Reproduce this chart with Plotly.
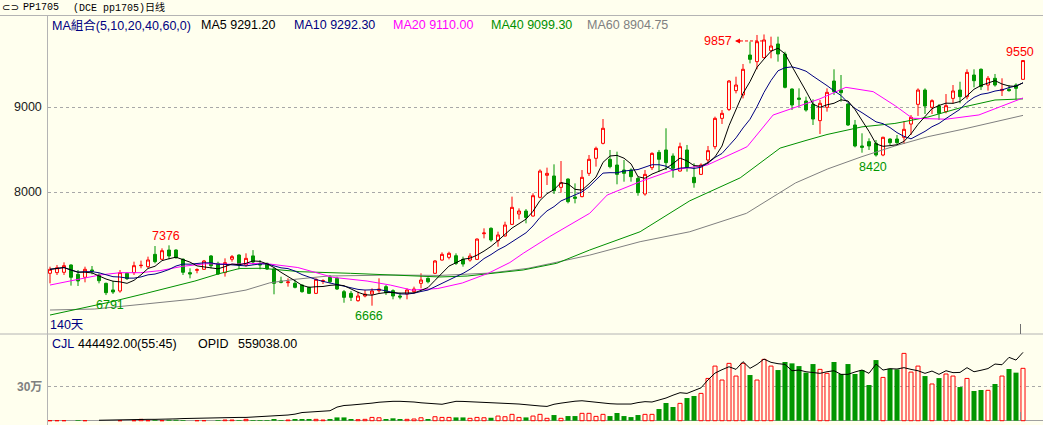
import plotly.graph_objects as go
import pandas as pd

W, H = 1043, 425
BG = "#FFFFEE"
RED = "#FF0000"
GREEN = "#009600"
NAVY = "#000080"
MAGENTA = "#FF00FF"
MA40_C = "#009000"
GREY = "#808080"
FRAME = "#B4B4B4"
FONT = "Liberation Sans, Arial, Noto Sans CJK SC, sans-serif"
MONO = "Liberation Mono, DejaVu Sans Mono, Noto Sans CJK SC, monospace"

# ---------------- data ----------------
opens = [7047, 7055, 7059, 7145, 7035, 7000, 7086, 7027, 6929, 6851,
         6839, 7047, 7055, 7137, 7125, 7270, 7212, 7321, 7321, 7212,
         7055, 7082, 7094, 7251, 7164, 7055, 7212, 7262, 7145, 7252,
         7160, 7164, 7098, 6956, 6937, 6929, 6909, 6882, 6811, 6952,
         7000, 6988, 6831, 6811, 6725, 6780, 6803, 6843, 6890, 6843,
         6780, 6803, 6831, 6929, 6988, 7047, 7203, 7235, 7254, 7211,
         7203, 7211, 7513, 7576, 7431, 7486, 7623, 7745, 7780, 7721,
         7941, 8200, 8192, 8058, 8156, 7945, 7949, 8223, 8400, 8576,
         8388, 8321, 8262, 8262, 8164, 7980, 8290, 8470, 8498, 8427,
         8250, 8498, 8176, 8211, 8380, 8537, 8870, 8975, 9196, 9145,
         9615, 9537, 9584, 9666, 9745, 9627, 9215, 9109, 9074, 9035,
         8843, 9000, 9309, 9203, 9039, 8792, 8545, 8596, 8576, 8439,
         8627, 8627, 8647, 8803, 9035, 9203, 9000, 9015, 8949, 9105,
         9203, 9125, 9380, 9447, 9262, 9341, 9196, 9211, 9262, 9329]
highs = [7125, 7145, 7176, 7153, 7086, 7125, 7133, 7047, 6937, 6957,
         7086, 7055, 7184, 7196, 7243, 7368, 7341, 7376, 7329, 7223,
         7106, 7106, 7204, 7262, 7184, 7223, 7262, 7270, 7282, 7320,
         7203, 7172, 7113, 7007, 6988, 6968, 6917, 6890, 6988, 6976,
         7027, 7007, 6851, 6839, 6831, 6851, 6870, 6988, 6909, 6858,
         6819, 6870, 6890, 7047, 7000, 7203, 7294, 7301, 7282, 7243,
         7282, 7458, 7576, 7588, 7537, 7654, 7949, 7811, 7803, 7988,
         8270, 8290, 8329, 8368, 8164, 8105, 8262, 8439, 8537, 8862,
         8498, 8478, 8380, 8282, 8184, 8262, 8470, 8498, 8753, 8458,
         8584, 8557, 8341, 8341, 8545, 8890, 8968, 9321, 9360, 9509,
         9772, 9851, 9857, 9831, 9831, 9654, 9223, 9223, 9125, 9094,
         9086, 9223, 9447, 9380, 9047, 8851, 8694, 8635, 8615, 8654,
         8635, 8674, 8839, 8909, 9223, 9223, 9094, 9039, 9156, 9262,
         9301, 9447, 9447, 9458, 9368, 9392, 9341, 9262, 9282, 9550]
lows = [6929, 7027, 7027, 6902, 6898, 6941, 7035, 6929, 6791, 6804,
        6819, 6968, 7027, 7106, 7106, 7164, 7204, 7212, 7219, 7027,
        6988, 7047, 7086, 7106, 7027, 7008, 7184, 7094, 7125, 7150,
        7094, 7086, 6800, 6929, 6890, 6870, 6819, 6803, 6803, 6921,
        6929, 6851, 6701, 6721, 6713, 6764, 6666, 6819, 6792, 6741,
        6741, 6741, 6811, 6870, 6929, 7039, 7196, 7211, 7145, 7125,
        7184, 7203, 7458, 7419, 7360, 7478, 7615, 7682, 7635, 7713,
        7929, 8086, 7980, 7996, 7870, 7870, 7941, 8192, 8302, 8564,
        8282, 8094, 8125, 8125, 7960, 7960, 8262, 8243, 8262, 8172,
        8243, 8243, 8054, 8203, 8329, 8506, 8804, 8956, 9164, 9105,
        9517, 9447, 9576, 9576, 9537, 9223, 8968, 9007, 8949, 8792,
        8686, 8949, 9145, 9066, 8780, 8529, 8466, 8498, 8420, 8425,
        8556, 8568, 8568, 8674, 8898, 8921, 8921, 8851, 8929, 9047,
        9047, 9094, 9235, 9203, 9196, 9243, 9133, 9184, 9094, 9329]
closes = [7094, 7113, 7137, 7000, 6957, 7094, 7070, 6960, 6819, 6827,
          7055, 6984, 7137, 7141, 7204, 7184, 7313, 7251, 7231, 7059,
          7039, 7090, 7192, 7137, 7039, 7172, 7243, 7145, 7223, 7180,
          7145, 7098, 6929, 6941, 6945, 6882, 6831, 6811, 6976, 6960,
          6948, 6862, 6764, 6764, 6780, 6803, 6839, 6862, 6819, 6780,
          6768, 6851, 6862, 6968, 6948, 7192, 7270, 7282, 7164, 7156,
          7250, 7450, 7521, 7439, 7498, 7615, 7823, 7780, 7705, 7960,
          8250, 8223, 8019, 8113, 7890, 7929, 8176, 8388, 8517, 8753,
          8302, 8211, 8223, 8184, 7996, 8211, 8458, 8388, 8349, 8282,
          8537, 8290, 8113, 8321, 8490, 8870, 8929, 9309, 9262, 9447,
          9564, 9772, 9792, 9721, 9627, 9235, 9027, 9094, 8968, 8862,
          9047, 9176, 9184, 9172, 8792, 8545, 8529, 8545, 8439, 8647,
          8584, 8584, 8741, 8882, 9203, 9015, 9078, 8929, 9019, 9192,
          9125, 9411, 9313, 9243, 9341, 9262, 9211, 9196, 9223, 9550]
volumes = [0, 0, 0, 0, 6000, 0, 0, 0, 0, 0,
           0, 0, 0, 12000, 0, 8000, 0, 8000, 8000, 6000,
           0, 0, 0, 0, 6000, 6000, 6000, 6000, 12000, 6000,
           6000, 6000, 15000, 6000, 6000, 15000, 15000, 15000, 12000, 6000,
           15000, 29000, 29000, 15000, 9000, 12000, 29000, 26000, 15000, 21000,
           15000, 12000, 15000, 26000, 15000, 35000, 29000, 29000, 29000, 29000,
           21000, 29000, 26000, 26000, 41000, 35000, 56000, 29000, 29000, 41000,
           56000, 21000, 50000, 21000, 41000, 41000, 65000, 65000, 38000, 56000,
           41000, 68000, 41000, 32000, 50000, 56000, 56000, 103000, 156000, 121000,
           153000, 200000, 218000, 241000, 373000, 482000, 359000, 506000, 394000, 506000,
           403000, 359000, 541000, 482000, 447000, 518000, 506000, 482000, 424000, 500000,
           453000, 418000, 518000, 412000, 500000, 412000, 447000, 315000, 535000, 382000,
           459000, 453000, 594000, 429000, 482000, 394000, 324000, 376000, 412000, 394000,
           297000, 373000, 262000, 271000, 268000, 324000, 394000, 456000, 424000, 462000]
opid = [None, None, None, None, None, None, None, 4000, 6000, 8000,
        10000, 11000, 12000, 12000, 12000, 12000, 12000, 13000, 16000, 19000,
        21000, 23000, 25000, 26000, 27000, 28000, 29000, 29000, 29000, 32000,
        36000, 40000, 44000, 47000, 50000, 58000, 72000, 76000, 80000, 85000,
        88000, 120000, 134000, 138000, 142000, 147000, 155000, 163000, 170000, 171000,
        171000, 171000, 165000, 158000, 154000, 150000, 145000, 158000, 171000, 170000,
        168000, 165000, 163000, 161000, 159000, 155000, 150000, 147000, 140000, 135000,
        130000, 126000, 145000, 155000, 165000, 172000, 176000, 168000, 160000, 153000,
        150000, 147000, 147000, 147000, 160000, 168000, 165000, 180000, 200000, 225000,
        247000, 241000, 262000, 290000, 360000, 420000, 450000, 476000, 453000, 521000,
        462000, 497000, 544000, 515000, 503000, 497000, 441000, 447000, 432000, 426000,
        418000, 432000, 441000, 409000, 409000, 430000, 447000, 418000, 500000, 447000,
        459000, 456000, 468000, 453000, 441000, 418000, 438000, 409000, 441000, 424000,
        426000, 468000, 432000, 445000, 460000, 500000, 494000, 559000, 535000, 603000]

# slower moving averages (candle index -> value)
ma20_idx = [0, 2.4, 4.7, 7.1, 10, 12.9, 15.7, 19, 22.4, 26.1, 30, 31.4, 35.4, 40.4,
            45.3, 48.6, 51.7, 55.4, 58.9, 62.6, 65.7, 67.6, 71.4, 77.1, 79.6, 84.3,
            89, 93.9, 98.6, 99.6, 103.3, 106.5, 110, 113.7, 116, 117.6, 120.8, 123.2,
            128, 132.7, 139]
ma20_val = [6909, 6948, 6988, 7027, 7054, 7054, 7078, 7130, 7160, 7153, 7165, 7156,
            7115, 7000, 6956, 6909, 6850, 6868, 6933, 7047, 7174, 7282, 7480, 7753,
            7968, 8125, 8262, 8321, 8498, 8537, 8909, 9000, 9100, 9235, 9204, 9184,
            9015, 8871, 8860, 8910, 9110]
ma40_idx = [0, 4.3, 7.1, 8.6, 13.6, 17.1, 20.7, 24, 27.1, 30.3, 35.7, 42.9, 50,
            55.7, 59.6, 63.6, 67.6, 72.4, 77.1, 84.3, 91.4, 98.6, 104.3, 108, 111,
            116, 120.7, 125.4, 130.3, 135, 139]
ma40_val = [6556, 6633, 6686, 6709, 6809, 6880, 6956, 7039, 7104, 7106, 7066, 7047,
            7027, 7004, 7015, 7047, 7086, 7165, 7321, 7536, 7900, 8170, 8520, 8610,
            8680, 8770, 8810, 8885, 9000, 9086, 9099]
ma60_idx = [0, 6.4, 13.6, 20.7, 28, 31.4, 35, 39.7, 49.3, 55.7, 62.9, 68.3, 71.4,
            77.1, 84.3, 91.4, 99.5, 106.5, 111.1, 116, 120.7, 125.4, 130.3, 135, 139]
ma60_val = [6615, 6627, 6686, 6745, 6850, 6935, 6976, 7015, 7027, 7022, 7050, 7106,
            7160, 7261, 7419, 7536, 7753, 8110, 8275, 8420, 8545, 8654, 8740, 8831,
            8905]

price_ticks = [8000, 9000]
vol_ticks = [300000]
vol_tick_text = ["30万"]

header_code = "PP1705"
header_name = "(DCE pp1705)日线"
legend_items = [("MA組合(5,10,20,40,60,0)", NAVY), ("MA5 9291.20", "#000000"),
                ("MA10 9292.30", NAVY), ("MA20 9110.00", MAGENTA),
                ("MA40 9099.30", MA40_C), ("MA60 8904.75", GREY)]
vol_items = [("CJL", NAVY), ("444492.00(55:45)", "#000000"),
             ("OPID", "#000000"), ("559038.00", "#000000")]
days_label = "140天"
# extreme marks: (candle index, 'high'/'low', colour, horizontal label shift px)
marks = [(17, "high", RED, -3), (8, "low", GREEN, 4), (46, "low", GREEN, -3),
         (118, "low", GREEN, -3), (139, "high", RED, -3)]
top_i = 102  # highest candle, labelled at the side with a dashed arrow

# ---------------- geometry (pixel calibration of the screen) ----------------
PLOT_L = 48            # left frame line
FIRST_X, STEP = 50, 7  # centre of first candle, spacing
MAIN_TOP, MAIN_BOT = 16, 334
REF_P, REF_Y, PX_PER_PT = 9000.0, 107.3, 0.085
VOL_BASE_Y, VOL_PER_PX = 420.7, 8824.0


def price_at(y):
    return REF_P - (y - REF_Y) / PX_PER_PT


def px(x):
    return x / W


def py(y):
    return 1 - y / H


n = len(closes)
idx = list(range(n))
cs = pd.Series(closes, dtype=float)
ma5 = cs.rolling(5, min_periods=1).mean()
ma10 = cs.rolling(10, min_periods=1).mean()
is_up = [c > o for o, c in zip(opens, closes)]

fig = go.Figure()
fig.add_trace(go.Candlestick(
    x=idx, open=opens, high=highs, low=lows, close=closes,
    increasing=dict(line=dict(color=RED, width=1), fillcolor=BG),
    decreasing=dict(line=dict(color=GREEN, width=1), fillcolor=GREEN),
    whiskerwidth=0, hoverinfo="skip", showlegend=False, xaxis="x", yaxis="y"))

for xs, ys, col in [(ma60_idx, ma60_val, GREY), (ma40_idx, ma40_val, MA40_C),
                    (ma20_idx, ma20_val, MAGENTA), (idx, ma10, NAVY), (idx, ma5, "#000000")]:
    fig.add_trace(go.Scatter(x=xs, y=ys, mode="lines", line=dict(color=col, width=1),
                             hoverinfo="skip", showlegend=False, xaxis="x", yaxis="y"))

up_i = [i for i in idx if is_up[i]]
dn_i = [i for i in idx if not is_up[i]]
fig.add_trace(go.Bar(x=up_i, y=[volumes[i] for i in up_i], width=0.58,
                     marker=dict(color=BG, line=dict(color=RED, width=1)),
                     hoverinfo="skip", showlegend=False, xaxis="x2", yaxis="y2"))
fig.add_trace(go.Bar(x=dn_i, y=[volumes[i] for i in dn_i], width=0.72,
                     marker=dict(color=GREEN, line=dict(width=0)),
                     hoverinfo="skip", showlegend=False, xaxis="x2", yaxis="y2"))
fig.add_trace(go.Scatter(x=idx, y=opid, mode="lines", line=dict(color="#000000", width=1),
                         hoverinfo="skip", showlegend=False, xaxis="x2", yaxis="y2",
                         connectgaps=False))

x_range = [(PLOT_L - FIRST_X) / STEP, (W - FIRST_X) / STEP]
main_dom = [py(MAIN_BOT), py(MAIN_TOP)]
vol_dom = [0, py(MAIN_BOT)]

ann = []


def text(x, y, s, color, size=12.5, family=FONT, anchor="left"):
    ann.append(dict(xref="paper", yref="paper", x=px(x), y=py(y), xanchor=anchor,
                    yanchor="middle", text=s, showarrow=False,
                    font=dict(family=family, size=size, color=color)))


# header
text(0, 7.5, "⊂⊃", "#000000", size=10, family="DejaVu Sans")
text(21, 7.5, header_code, "#000000", size=10, family=MONO)
text(71, 7.5, header_name, "#000000", size=10, family=MONO)
# legend row
leg_x = [50, 199, 292, 391, 489, 585]
for (s, c), x in zip(legend_items, leg_x):
    text(x, 25, s, c)
vol_x = [50, 76, 196, 236]
for (s, c), x in zip(vol_items, vol_x):
    text(x, 343.5, s, c)
text(48, 325, days_label, NAVY)

for t in price_ticks:
    ann.append(dict(xref="paper", yref="y", x=px(44), y=t, xanchor="right", yanchor="middle",
                    text=str(t), showarrow=False, font=dict(family=FONT, size=12.5, color="#202020")))
for t, s in zip(vol_ticks, vol_tick_text):
    ann.append(dict(xref="paper", yref="y2", x=px(44), y=t, xanchor="right", yanchor="middle",
                    text="<b>" + s + "</b>", showarrow=False,
                    font=dict(family=FONT, size=12, color="#808080")))

for i, kind, col, dx in marks:
    if kind == "high":
        val = highs[i]
        ann.append(dict(xref="x", yref="y", x=i, y=val, xanchor="center", yanchor="bottom",
                        text=str(val), showarrow=False, xshift=dx, yshift=0,
                        font=dict(family=FONT, size=12.5, color=col)))
    else:
        val = lows[i]
        ann.append(dict(xref="x", yref="y", x=i, y=val, xanchor="center", yanchor="top",
                        text=str(val), showarrow=False, xshift=dx, yshift=-1,
                        font=dict(family=FONT, size=12.5, color=col)))

ann.append(dict(xref="x", yref="y", x=top_i, y=highs[top_i], xanchor="right", yanchor="middle",
                text=str(highs[top_i]), showarrow=False, xshift=-30, yshift=-6.5,
                font=dict(family=FONT, size=12.5, color=RED)))
ann.append(dict(xref="x", yref="y", x=top_i, y=highs[top_i], text="", showarrow=True,
                xshift=-29, yshift=-6.5, ax=7, ay=0, arrowhead=2, arrowsize=1,
                arrowwidth=1, arrowcolor=RED, standoff=0))

shapes = [
    dict(type="line", xref="paper", yref="paper", x0=0, x1=1, y0=py(15.5), y1=py(15.5),
         line=dict(color=FRAME, width=1)),
    dict(type="line", xref="paper", yref="paper", x0=0, x1=1, y0=py(334), y1=py(334),
         line=dict(color=FRAME, width=1)),
    dict(type="line", xref="paper", yref="paper", x0=px(47.5), x1=px(47.5), y0=py(15.5), y1=0,
         line=dict(color=FRAME, width=1)),
    dict(type="line", xref="x", yref="y", xsizemode="pixel", xanchor=top_i, x0=-24, x1=-1,
         ysizemode="pixel", yanchor=highs[top_i], y0=-6.5, y1=-6.5,
         line=dict(color=RED, width=1, dash="3px,2px")),
    dict(type="line", xref="paper", yref="paper", x0=px(1020.5), x1=px(1020.5),
         y0=py(324), y1=py(334), line=dict(color="#707070", width=1)),
    dict(type="line", xref="paper", yref="paper", x0=px(1020.5), x1=px(1020.5),
         y0=py(412), y1=py(420.7), line=dict(color="#909090", width=1)),
]

axis_common = dict(showline=False, zeroline=False, showticklabels=False, ticks="",
                   fixedrange=True)
fig.update_layout(
    width=W, height=H, margin=dict(l=0, r=0, t=0, b=0),
    paper_bgcolor=BG, plot_bgcolor=BG, showlegend=False, hovermode=False,
    barmode="overlay", boxgap=0.4, dragmode=False,
    xaxis=dict(domain=[px(PLOT_L), 1], range=x_range, showgrid=False,
               rangeslider=dict(visible=False), anchor="y", **axis_common),
    yaxis=dict(domain=main_dom, range=[price_at(MAIN_BOT), price_at(MAIN_TOP)],
               tickvals=price_ticks, showgrid=True, gridcolor="#A8A8A8", griddash="dot",
               gridwidth=1, anchor="x", **axis_common),
    xaxis2=dict(domain=[px(PLOT_L), 1], range=x_range, showgrid=False, anchor="y2",
                **axis_common),
    yaxis2=dict(domain=vol_dom,
                range=[-(H - VOL_BASE_Y) * VOL_PER_PX, (VOL_BASE_Y - MAIN_BOT) * VOL_PER_PX],
                tickvals=vol_ticks, showgrid=True, gridcolor="#A8A8A8", griddash="dot",
                gridwidth=1, anchor="x2", showline=False, ticks="", showticklabels=False,
                fixedrange=True, zeroline=True, zerolinecolor="#A0A0A0", zerolinewidth=1),
    annotations=ann, shapes=shapes,
)

fig.write_html("out.html", config={"displayModeBar": False, "staticPlot": True},
               post_script="document.body.style.margin='0';")
